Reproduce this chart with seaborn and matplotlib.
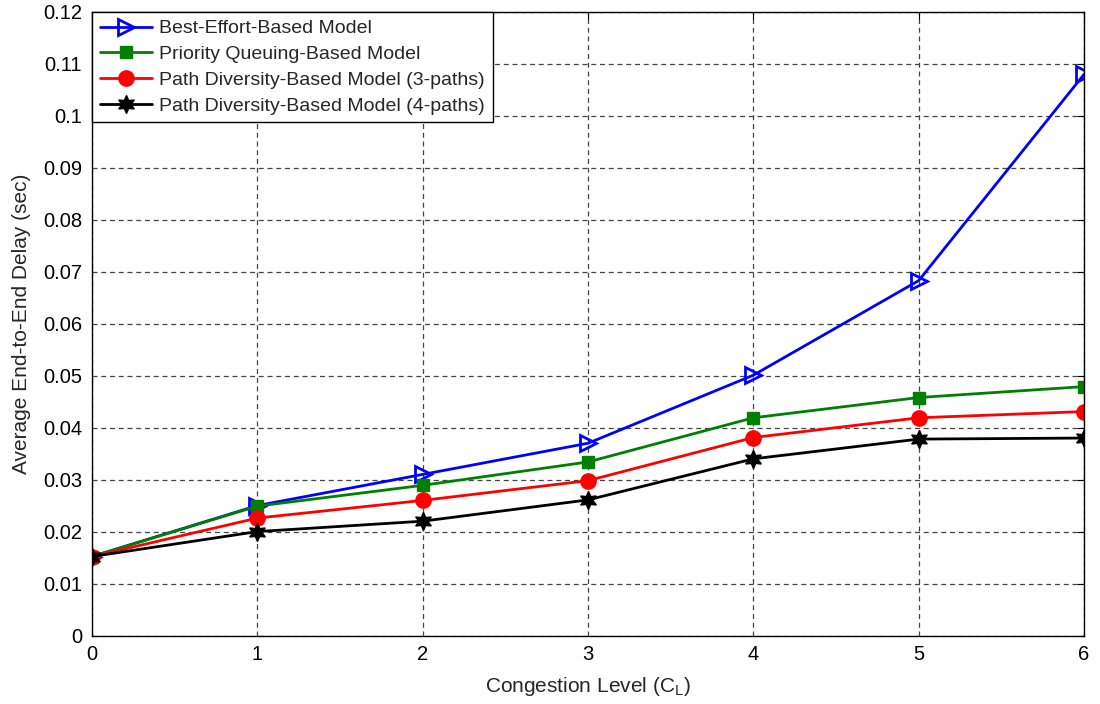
import numpy as np
import pandas as pd
import matplotlib
matplotlib.use("Agg")
import matplotlib.pyplot as plt
import seaborn as sns

congestion = [0, 1, 2, 3, 4, 5, 6]
best_effort = [0.0152, 0.0250, 0.0310, 0.0370, 0.0501, 0.0683, 0.1080]
priority_queuing = [0.0152, 0.0249, 0.0289, 0.0334, 0.0419, 0.0458, 0.0479]
path_div_3 = [0.0152, 0.0226, 0.0260, 0.0298, 0.0381, 0.0419, 0.0431]
path_div_4 = [0.0152, 0.0200, 0.0220, 0.0261, 0.0340, 0.0378, 0.0380]

labels = ["Best-Effort-Based Model",
          "Priority Queuing-Based Model",
          "Path Diversity-Based Model (3-paths)",
          "Path Diversity-Based Model (4-paths)"]
series = [best_effort, priority_queuing, path_div_3, path_div_4]

df = pd.concat([pd.DataFrame({"x": congestion, "y": s, "model": lab})
                for s, lab in zip(series, labels)], ignore_index=True)

sns.set_style("white")
plt.rcParams["font.family"] = ["Liberation Sans", "DejaVu Sans"]

fig = plt.figure(figsize=(11, 7.04), dpi=100)
ax = fig.add_axes([0.0836, 0.0973, 0.9019, 0.8857])

styles = {
    labels[0]: dict(color="#0000ff", marker=">", mfc="none", mec="#0000ff", ms=11, mew=2),
    labels[1]: dict(color="#008000", marker="s", mfc="#008000", mec="#008000", ms=9, mew=1),
    labels[2]: dict(color="#ff0000", marker="o", mfc="#ff0000", mec="#ff0000", ms=11, mew=1),
    labels[3]: dict(color="#000000", marker=(6, 1, 0), mfc="#000000", mec="#000000", ms=13, mew=1),
}

for lab in labels:
    st = styles[lab]
    sub = df[df["model"] == lab]
    sns.lineplot(data=sub, x="x", y="y", ax=ax, color=st["color"], lw=2,
                 marker=st["marker"], markersize=st["ms"],
                 markerfacecolor=st["mfc"], markeredgecolor=st["mec"],
                 markeredgewidth=st["mew"], label=lab)

ax.set_xlim(0, 6)
ax.set_ylim(0, 0.12)
ax.set_xticks(congestion)
ax.set_yticks(np.arange(0, 0.1201, 0.01))
ax.set_yticklabels(["0", "0.01", "0.02", "0.03", "0.04", "0.05", "0.06",
                    "0.07", "0.08", "0.09", "0.1", "0.11", "0.12"])
ax.tick_params(direction="in", length=5, width=0.8, labelsize=14.5, pad=7,
               top=True, right=True, colors="black")
ax.grid(True, linestyle=(0, (4, 3)), color="#444444", linewidth=0.9)
for sp in ax.spines.values():
    sp.set_color("black")
    sp.set_linewidth(1)

ax.set_xlabel("Congestion Level (C$_\\mathregular{L}$)", fontsize=15, labelpad=8)
ax.set_ylabel("Average End-to-End Delay (sec)", fontsize=15, labelpad=9)

leg = ax.legend(loc="upper left", fontsize=14, frameon=True, fancybox=False,
                edgecolor="black", framealpha=1, borderaxespad=0.0,
                handlelength=2.7, handletextpad=0.35, borderpad=0.4,
                labelspacing=0.42)
leg.get_frame().set_linewidth(1)

fig.savefig("out.png", dpi=100)
